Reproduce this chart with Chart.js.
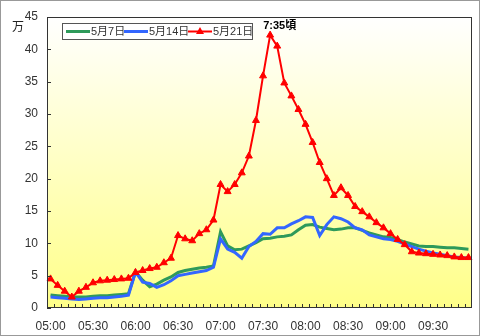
<!DOCTYPE html>
<html>
<head>
<meta charset="utf-8">
<script src="https://cdn.jsdelivr.net/npm/chart.js@4"></script>
<style>
  body { margin: 0; background: #fff; }
  canvas { display: block; }
</style>
</head>
<body>
<canvas id="myChart" width="480" height="336"></canvas>
<script>
// 5分ごとの時刻
const times = [
  '05:00','05:05','05:10','05:15','05:20','05:25','05:30','05:35','05:40','05:45',
  '05:50','05:55','06:00','06:05','06:10','06:15','06:20','06:25','06:30','06:35',
  '06:40','06:45','06:50','06:55','07:00','07:05','07:10','07:15','07:20','07:25',
  '07:30','07:35','07:40','07:45','07:50','07:55','08:00','08:05','08:10','08:15',
  '08:20','08:25','08:30','08:35','08:40','08:45','08:50','08:55','09:00','09:05',
  '09:10','09:15','09:20','09:25','09:30','09:35','09:40','09:45','09:50','09:55'
];
const xTickLabels = ['05:00','05:30','06:00','06:30','07:00','07:30','08:00','08:30','09:00','09:30'];
const yTicks = [0, 5, 10, 15, 20, 25, 30, 35, 40, 45];

const seriesNames = ['5月7日', '5月14日', '5月21日'];
const may7 = [
  2.0, 1.9, 1.8, 1.7, 1.7, 1.7, 1.8, 1.9, 1.9, 2.0,
  2.1, 2.2, 5.6, 4.3, 3.3, 3.7, 4.3, 4.8, 5.5, 5.8,
  6.0, 6.2, 6.3, 6.5, 11.8, 9.6, 9.0, 9.1, 9.6, 10.1,
  10.7, 10.8, 11.0, 11.1, 11.3, 12.1, 12.8, 12.9, 12.5, 12.3,
  12.1, 12.2, 12.4, 12.4, 12.0, 11.6, 11.3, 11.0, 10.9, 10.6,
  10.2, 9.9, 9.6, 9.5, 9.5, 9.4, 9.3, 9.3, 9.2, 9.1
];
const may14 = [
  1.7, 1.6, 1.5, 1.4, 1.3, 1.4, 1.5, 1.6, 1.6, 1.7,
  1.8, 2.0, 5.6, 4.0, 3.8, 3.2, 3.6, 4.2, 5.0, 5.2,
  5.4, 5.6, 5.8, 6.3, 10.7, 9.1, 8.6, 7.7, 9.5, 10.3,
  11.5, 11.4, 12.4, 12.4, 13.0, 13.5, 14.1, 14.0, 11.2, 12.9,
  14.1, 13.8, 13.3, 12.4, 12.1, 11.3, 11.0, 10.7, 10.6, 10.3,
  9.9, 9.5, 9.1, 8.8, 8.5, 8.3, 8.1, 7.9, 7.8, 7.7
];
const may21 = [
  4.5, 3.5, 2.6, 1.7, 2.6, 3.2, 3.9, 4.2, 4.3, 4.4,
  4.5, 4.6, 5.5, 5.8, 6.1, 6.3, 7.0, 7.7, 11.2, 10.7,
  10.4, 11.5, 12.1, 13.6, 19.1, 18.0, 19.1, 20.9, 23.5, 29.0,
  35.9, 42.2, 40.5, 34.8, 32.8, 30.7, 28.4, 25.6, 22.5, 20.0,
  17.4, 18.6, 17.4, 15.7, 14.9, 14.1, 13.2, 12.4, 11.5, 10.6,
  9.8, 8.7, 8.5, 8.4, 8.3, 8.2, 8.1, 7.9, 7.8, 7.8
];
const peakLabel = '7:35頃';
const peakTime = '07:35';
const unitLabel = '万';

const green = '#2e9a5a';
const blue = '#3366ff';
const red = '#ff0000';
const font = '"Liberation Sans", "Noto Sans CJK JP", sans-serif';

const decoPlugin = {
  id: 'deco',
  beforeDraw(chart) {
    const { ctx, chartArea: a } = chart;
    ctx.save();
    ctx.fillStyle = '#fff';
    ctx.fillRect(0, 0, chart.width, chart.height);
    const g = ctx.createLinearGradient(0, a.top, 0, a.bottom);
    g.addColorStop(0, '#ffffff');
    g.addColorStop(1, '#ffff88');
    ctx.fillStyle = g;
    ctx.fillRect(a.left, a.top, a.right - a.left, a.bottom - a.top);
    ctx.restore();
  },
  afterDatasetsDraw(chart) {
    const { ctx, chartArea: a, scales } = chart;
    const x = scales.x, y = scales.y;
    ctx.save();
    // 枠
    ctx.strokeStyle = '#999';
    ctx.lineWidth = 1;
    ctx.strokeRect(0.5, 0.5, chart.width - 1, chart.height - 1);
    ctx.strokeStyle = '#333';
    ctx.strokeRect(a.left + 0.5, a.top + 0.5, a.right - a.left - 1, a.bottom - a.top - 1);
    // 内向きの目盛り
    ctx.beginPath();
    for (let i = 1; i < times.length; i++) {
      const px = Math.round((x.getPixelForValue(i - 1) + x.getPixelForValue(i)) / 2) + 0.5;
      ctx.moveTo(px, a.bottom);
      ctx.lineTo(px, a.bottom - 4);
    }
    yTicks.forEach(v => {
      const py = Math.round(y.getPixelForValue(v)) + 0.5;
      ctx.moveTo(a.left, py);
      ctx.lineTo(a.left + 4, py);
    });
    ctx.stroke();

    // 単位
    ctx.fillStyle = '#222';
    ctx.font = '12px ' + font;
    ctx.textBaseline = 'middle';
    ctx.fillText(unitLabel, 12, 28);

    // ピーク注記
    const pi = times.indexOf(peakTime);
    const ppx = x.getPixelForValue(pi);
    const ppy = y.getPixelForValue(may21[pi]);
    ctx.font = 'bold 11px ' + font;
    ctx.fillStyle = '#000';
    ctx.textBaseline = 'alphabetic';
    ctx.fillText(peakLabel, ppx - 7, ppy - 6);

    // 凡例
    const lx = 62, ly = 23;
    ctx.fillStyle = '#fff';
    ctx.fillRect(lx, ly, 190, 16);
    ctx.strokeStyle = '#555';
    ctx.strokeRect(lx + 0.5, ly + 0.5, 190, 16);
    const items = [
      { name: seriesNames[0], color: green, w: 3, x0: 66, tri: false },
      { name: seriesNames[1], color: blue, w: 3, x0: 124, tri: false },
      { name: seriesNames[2], color: red, w: 2, x0: 188, tri: true }
    ];
    ctx.font = '11px ' + font;
    ctx.textBaseline = 'middle';
    items.forEach(it => {
      ctx.strokeStyle = it.color;
      ctx.lineWidth = it.w;
      ctx.beginPath();
      ctx.moveTo(it.x0, ly + 8.5);
      ctx.lineTo(it.x0 + 24, ly + 8.5);
      ctx.stroke();
      if (it.tri) {
        ctx.fillStyle = it.color;
        ctx.beginPath();
        ctx.moveTo(it.x0 + 12, ly + 4);
        ctx.lineTo(it.x0 + 16, ly + 11);
        ctx.lineTo(it.x0 + 8, ly + 11);
        ctx.closePath();
        ctx.fill();
      }
      ctx.fillStyle = '#333';
      ctx.fillText(it.name, it.x0 + 25, ly + 9);
    });
    ctx.restore();
  }
};

new Chart(document.getElementById('myChart'), {
  type: 'line',
  data: {
    labels: times,
    datasets: [
      {
        label: seriesNames[2], data: may21, order: 0,
        borderColor: red, backgroundColor: red, borderWidth: 2,
        pointStyle: 'triangle', pointRadius: 4, pointBackgroundColor: red,
        pointBorderColor: red, pointBorderWidth: 1, tension: 0
      },
      {
        label: seriesNames[1], data: may14, order: 1,
        borderColor: blue, borderWidth: 3, pointRadius: 0, tension: 0
      },
      {
        label: seriesNames[0], data: may7, order: 2,
        borderColor: green, borderWidth: 3, pointRadius: 0, tension: 0
      }
    ]
  },
  options: {
    responsive: false,
    animation: false,
    layout: { padding: { left: 0, top: 17, right: 8, bottom: 0 } },
    plugins: { legend: { display: false }, tooltip: { enabled: false } },
    scales: {
      x: {
        offset: true,
        grid: { display: false, drawTicks: false, offset: true },
        border: { display: false },
        ticks: {
          autoSkip: false, maxRotation: 0, padding: 11,
          color: '#333', font: { family: font, size: 12 },
          callback: (v, i) => xTickLabels.includes(times[i]) ? times[i] : ''
        },
        afterFit: s => { s.height = 28; }
      },
      y: {
        min: 0, max: 45,
        grid: { display: false, drawTicks: false },
        border: { display: false },
        ticks: {
          stepSize: 5, padding: 9,
          color: '#333', font: { family: font, size: 12 }
        },
        afterFit: s => { s.width = 47; }
      }
    }
  },
  plugins: [decoPlugin]
});
</script>
</body>
</html>
